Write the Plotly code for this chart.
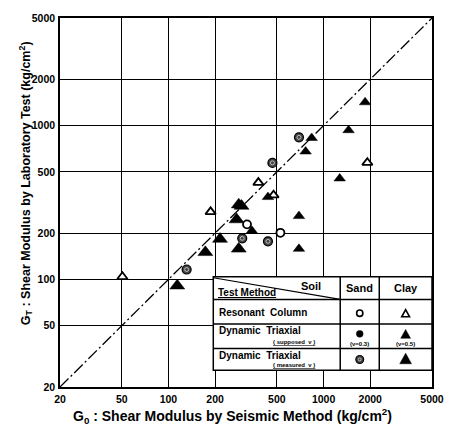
import math
import plotly.graph_objects as go

# ---------------- data ----------------
# Resonant column test
rc_sand_x = [321, 527]
rc_sand_y = [228, 201]
rc_clay_x = [50.5, 187, 380, 476, 1915]
rc_clay_y = [104, 275, 426, 353, 574]
# Dynamic triaxial, supposed nu (clay)
dts_clay_x = [838, 766, 438, 345, 694, 694, 1852, 1449, 1271]
dts_clay_y = [830, 678, 343, 207, 258, 158, 1416, 933, 453]
# Dynamic triaxial, measured nu
dtm_sand_x = [694, 468, 299, 438, 131]
dtm_sand_y = [838, 572, 185, 177, 116]
dtm_clay_x = [284, 296, 275, 215, 284, 173, 114]
dtm_clay_y = [306, 300, 245, 183, 158, 150, 91]

tick_vals = [20, 50, 100, 200, 500, 1000, 2000, 5000]
tick_text = ["20", "50", "100", "200", "500", "1000", "2000", "5000"]
diag_vals = [20, 5000]

FAM = "Liberation Sans, Arial, sans-serif"

# plot area in pixels
L, R, T, B = 60, 441, 12, 387
W, H = 456, 437


def dx(px):
    return (px - L) / (R - L)


def dy(py):
    return (B - py) / (B - T)


def fnt(size):
    return dict(family=FAM, size=size, color="black", weight="bold")


fig = go.Figure()

# diagonal 1:1 line
fig.add_trace(go.Scatter(x=diag_vals, y=diag_vals, mode="lines",
                         line=dict(color="black", width=1.3, dash="12px,3px,2px,3px"),
                         hoverinfo="skip", showlegend=False))

# resonant column
fig.add_trace(go.Scatter(x=rc_sand_x, y=rc_sand_y, mode="markers",
                         marker=dict(symbol="circle", size=8, color="white",
                                     line=dict(color="black", width=1.8)),
                         showlegend=False))
fig.add_trace(go.Scatter(x=rc_clay_x, y=rc_clay_y, mode="markers",
                         marker=dict(symbol="triangle-up", size=9, color="white",
                                     line=dict(color="black", width=1.8)),
                         showlegend=False))
# dynamic triaxial supposed
fig.add_trace(go.Scatter(x=dts_clay_x, y=dts_clay_y, mode="markers",
                         marker=dict(symbol="triangle-up", size=10, color="black",
                                     line=dict(color="black", width=0.5)),
                         showlegend=False))
# dynamic triaxial measured
fig.add_trace(go.Scatter(x=dtm_clay_x, y=dtm_clay_y, mode="markers",
                         marker=dict(symbol="triangle-up", size=13, color="black",
                                     line=dict(color="black", width=0.5)),
                         showlegend=False))
fig.add_trace(go.Scatter(x=dtm_sand_x, y=dtm_sand_y, mode="markers",
                         marker=dict(symbol="circle", size=9, color="#444",
                                     line=dict(color="black", width=1.2)),
                         showlegend=False))
fig.add_trace(go.Scatter(x=dtm_sand_x, y=dtm_sand_y, mode="markers",
                         marker=dict(symbol="circle-open", size=4, color="#bbb",
                                     line=dict(width=1)),
                         showlegend=False))

# ---------------- legend table ----------------
tbl_l, tbl_r = 217, 441
rows = [275, 298, 323, 348, 370]
c1, c2 = 347, 387
LW = 1.5
shapes = []
shapes.append(dict(type="rect", xref="paper", yref="paper",
                   x0=dx(tbl_l), x1=dx(tbl_r), y0=dy(rows[-1]), y1=dy(rows[0]),
                   fillcolor="white", line=dict(color="black", width=LW), layer="above"))
for ry in rows[1:-1]:
    shapes.append(dict(type="line", xref="paper", yref="paper",
                       x0=dx(tbl_l), x1=dx(tbl_r), y0=dy(ry), y1=dy(ry),
                       line=dict(color="black", width=LW), layer="above"))
for cx in (c1, c2):
    shapes.append(dict(type="line", xref="paper", yref="paper",
                       x0=dx(cx), x1=dx(cx), y0=dy(rows[-1]), y1=dy(rows[0]),
                       line=dict(color="black", width=LW), layer="above"))
shapes.append(dict(type="line", xref="paper", yref="paper",
                   x0=dx(tbl_l), x1=dx(c1), y0=dy(rows[0] + 1), y1=dy(rows[1]),
                   line=dict(color="black", width=1.2), layer="above"))

sx, cx_ = (c1 + c2) / 2, (c2 + tbl_r) / 2


def key_circle(px, py, r, fill, lw=1.5, lc="black"):
    shapes.append(dict(type="circle", xref="paper", yref="paper",
                       x0=dx(px - r), x1=dx(px + r), y0=dy(py + r), y1=dy(py - r),
                       fillcolor=fill, line=dict(color=lc, width=lw), layer="above"))


def key_tri(px, py, s, fill, lw=1.5):
    h = s * 0.9
    path = "M {:.5f},{:.5f} L {:.5f},{:.5f} L {:.5f},{:.5f} Z".format(
        dx(px - s / 2), dy(py + h / 2), dx(px + s / 2), dy(py + h / 2), dx(px), dy(py - h / 2))
    shapes.append(dict(type="path", xref="paper", yref="paper", path=path,
                       fillcolor=fill, line=dict(color="black", width=lw), layer="above"))


key_circle(sx, 312, 3.2, "white", 1.6)
key_tri(cx_, 312, 8, "white", 1.6)
key_circle(sx, 333, 3.5, "black", 0.5)
key_tri(cx_, 333, 10, "black", 0.5)
key_circle(sx, 359, 4, "#444", 1.2)
key_circle(sx, 359, 1.5, "#444", 1, "#bbb")
key_tri(cx_, 358, 12, "black", 0.5)

ann = []


def txt(text, px, py, size=11, xanchor="left", **kw):
    ann.append(dict(text=text, x=dx(px), y=dy(py), xref="paper", yref="paper",
                    showarrow=False, xanchor=xanchor, yanchor="middle",
                    font=fnt(size), **kw))


txt("Soil", 317, 284, size=11, xanchor="center")
txt("<u>Test Method</u>", 220, 291, size=10)
txt("Sand", sx, 286, size=11, xanchor="center")
txt("Clay", cx_, 286, size=11, xanchor="center")
txt("Resonant  Column", 221, 311, size=10)
txt("Dynamic  Triaxial", 221, 330, size=10)
txt("<u>( supposed  ν )</u>", 300, 341, size=6, xanchor="center")
txt("(ν=0.3)", sx, 343, size=6, xanchor="center")
txt("(ν=0.5)", cx_, 343, size=6, xanchor="center")
txt("Dynamic  Triaxial", 221, 355, size=10)
txt("<u>( measured  ν )</u>", 300, 365, size=6, xanchor="center")

# axis titles
txt("G<sub>0</sub> : Shear Modulus by Seismic Method (kg/cm<sup>2</sup>)", 237, 416,
    size=14, xanchor="center")
txt("G<sub>T</sub> : Shear Modulus by Laboratory Test (kg/cm<sup>2</sup>)", 25, 180,
    size=12.5, xanchor="center", textangle=-90)

axis_common = dict(type="log", range=[math.log10(20), math.log10(5000)],
                   tickvals=tick_vals, ticktext=tick_text, showgrid=True,
                   gridcolor="black", gridwidth=1, showline=True, linecolor="black",
                   linewidth=1.5, mirror=True, ticks="", zeroline=False,
                   tickfont=fnt(10.5))

fig.update_layout(
    width=W, height=H,
    margin=dict(l=L, r=W - R, t=T, b=H - B),
    plot_bgcolor="white", paper_bgcolor="white",
    xaxis=dict(**axis_common, ticklabelstandoff=2),
    yaxis=dict(**axis_common, ticklabelstandoff=1),
    shapes=shapes, annotations=ann, showlegend=False,
)

fig.write_html("out.html", config={"displayModeBar": False},
               post_script="document.body.style.margin='0';document.body.style.overflow='hidden';")
